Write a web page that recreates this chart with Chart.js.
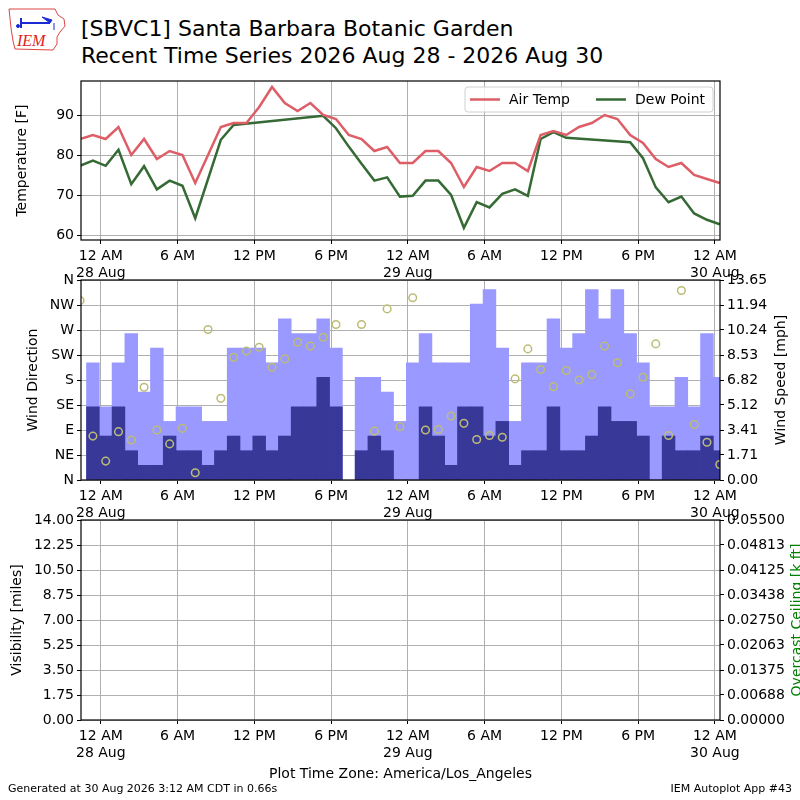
<!DOCTYPE html>
<html>
<head>
<meta charset="utf-8">
<title>SBVC1 Recent Time Series</title>
<script src="https://cdn.jsdelivr.net/npm/chart.js@4.4.1/dist/chart.umd.min.js"></script>
<style>
  html, body { margin: 0; padding: 0; background: #fff; overflow: hidden; width: 800px; height: 800px; }
  canvas { position: absolute; left: 0; top: 0; }
  .txt { position: absolute; font-family: 'DejaVu Sans', sans-serif; color: #000; white-space: nowrap; }
</style>
</head>
<body>
<svg style="position:absolute;left:6px;top:6px" width="62" height="48" viewBox="0 0 62 48">
  <path d="M3,3 L49,3 L52,9 L58,13 L59,20 L54,26 L51,31 L51,38 L47,44 L9,43 L7,35 L5,22 Z" fill="none" stroke="#d44" stroke-width="1"/>
  <g stroke="#1a2bd4" stroke-width="2" fill="#1a2bd4">
    <line x1="15" y1="17" x2="44" y2="17"/>
    <line x1="15" y1="12" x2="15" y2="22"/>
    <path d="M36,11 L46,14 L44,17 Z" stroke-width="1"/>
    <circle cx="12" cy="20" r="1.5" stroke-width="1"/>
    <line x1="48" y1="17" x2="48" y2="24" stroke-width="1"/>
  </g>
  <text x="11" y="40" font-family="Liberation Serif, serif" font-style="italic" font-size="16" fill="#d22">IEM</text>
</svg>
<div class="txt" style="left:81px; top:18px; font-size:22px; line-height:22px;">[SBVC1] Santa Barbara Botanic Garden</div>
<div class="txt" style="left:81px; top:45px; font-size:22px; line-height:22px;">Recent Time Series 2026 Aug 28 - 2026 Aug 30</div>
<canvas id="tempChart" width="820" height="800"></canvas>
<canvas id="windChart" width="820" height="800"></canvas>
<canvas id="visChart" width="820" height="800"></canvas>
<div class="txt" style="left:8px; top:783px; font-size:11px; line-height:11px;">Generated at 30 Aug 2026 3:12 AM CDT in 0.66s</div>
<div class="txt" style="right:8px; top:783px; font-size:11px; line-height:11px;">IEM Autoplot App #43</div>
<script>
// hours since 12 AM 28 Aug, America/Los_Angeles
var obsHours = [-1.62, -0.62, 0.38, 1.38, 2.38, 3.38, 4.38, 5.38, 6.38, 7.38,
  8.38, 9.38, 10.38, 11.38, 12.38, 13.38, 14.38, 15.38, 16.38, 17.38,
  18.38, 19.38, 20.38, 21.38, 22.38, 23.38, 24.38, 25.38, 26.38, 27.38,
  28.38, 29.38, 30.38, 31.38, 32.38, 33.38, 34.38, 35.38, 36.38, 37.38,
  38.38, 39.38, 40.38, 41.38, 42.38, 43.38, 44.38, 45.38, 46.38, 47.38, 48.38];

var airTemp = [84, 85, 84, 87, 80, 84, 79, 81, 80, 73,
  null, 87, 88, 88, 92, 97, 93, 91, 93, 90,
  89, 85, 84, 81, 82, 78, 78, 81, 81, 78,
  72, 77, 76, 78, 78, 76, 85, 86, 85, 87,
  88, 90, 89, 85, 83, 79, 77, 78, 75, 74, 73];

var dewPoint = [77.3, 78.6, 77.3, 81.3, 72.7, 77.2, 71.4, 73.6, 72.3, 64.2,
  null, 83.8, 87.5, null, null, null, null, null, null, 89.8,
  86.7, 82.1, 77.8, 73.6, 74.4, 69.6, 69.8, 73.6, 73.6, 70.0,
  61.8, 68.2, 66.9, 70.3, 71.4, 69.8, 84.0, 85.7, 84.3, null,
  null, null, null, 83.2, 79.2, 71.9, 68.2, 69.6, 65.4, 63.8, 62.7];

var windDir = [323, 79, 34, 87, 72, 167, 90, 65, 93, 13,
  271, 147, 221, 232, 239, 203, 218, 248, 241, 257,
  280, null, 280, 88, 308, 96, 328, 90, 91, 115,
  102, 73, 80, 77, 182, 236, 199, 168, 197, 180,
  190, 241, 211, 155, 185, 245, 80, 341, 100, 68, 28];

var windSpeed = [null, 5, 3, 5, 2, 1, 1, 3, 2, 2,
  1, 2, 3, 2, 3, 2, 3, 5, 5, 7,
  5, null, 2, 3, 2, 0, 0, 5, 3, 1,
  5, 5, 3, 4, 1, 2, 2, 5, 2, 2,
  3, 5, 4, 4, 3, 0, 3, 2, 2, 3, 2];

var windGust = [null, 8, 5, 8, 10, 6, 9, 4, 5, 5,
  4, 4, 9, 9, 9, 8, 11, 10, 10, 11,
  9, null, 7, 7, 6, 4, 8, 10, 8, 8,
  8, 12, 13, 9, 4, 8, 8, 11, 9, 10,
  13, 11, 13, 10, 8, 5, 5, 7, 5, 10, 7];

// no visibility / ceiling reports in this window
var visibility = [];
var ceiling = [];

var xTickHours = [0, 6, 12, 18, 24, 30, 36, 42, 48];
var xTickLabels = [['12 AM', '28 Aug'], '6 AM', '12 PM', '6 PM', ['12 AM', '29 Aug'],
  '6 AM', '12 PM', '6 PM', ['12 AM', '30 Aug']];
var tempTicks = [60, 70, 80, 90];
var dirTicks = [0, 45, 90, 135, 180, 225, 270, 315, 360];
var dirLabels = ['N', 'NE', 'E', 'SE', 'S', 'SW', 'W', 'NW', 'N'];
var speedTicks = [0, 1.71, 3.41, 5.12, 6.82, 8.53, 10.24, 11.94, 13.65];
var visTicks = [0, 1.75, 3.5, 5.25, 7, 8.75, 10.5, 12.25, 14];
var ceilTicks = [0, 0.00688, 0.01375, 0.02063, 0.0275, 0.03438, 0.04125, 0.04813, 0.055];

var xMin = -1.55, xMax = 48.4;
var gridColor = '#b0b0b0';

Chart.defaults.font.family = 'DejaVu Sans';
Chart.defaults.font.size = 14;
Chart.defaults.color = '#000';
Chart.defaults.animation = false;
Chart.defaults.plugins.legend.display = false;
Chart.defaults.plugins.tooltip.enabled = false;

function pairs(xs, ys) {
  return xs.map(function (x, i) { return { x: x, y: ys[i] }; });
}

function timeAxis(height, title) {
  return {
    type: 'linear', min: xMin, max: xMax, offset: false, z: 1,
    grid: { color: gridColor, lineWidth: 1, offset: false, tickColor: '#000', tickLength: 4 },
    border: { display: false },
    ticks: { autoSkip: false, maxRotation: 0, padding: 4, font: { lineHeight: 1.2 },
      callback: function (v, i) { return xTickLabels[i]; } },
    afterBuildTicks: function (a) { a.ticks = xTickHours.map(function (v) { return { value: v }; }); },
    afterFit: function (a) { a.height = height; },
    title: title ? { display: true, text: title, padding: { top: 0, bottom: 2 } } : { display: false }
  };
}

function sideAxis(pos, min, max, vals, labels, title, titlePad) {
  return {
    type: 'linear', position: pos, min: min, max: max, z: 1,
    grid: { color: gridColor, lineWidth: 1, tickColor: '#000', tickLength: 4, drawOnChartArea: pos === 'left' },
    border: { display: false },
    ticks: { autoSkip: false, padding: 3, callback: function (v, i) { return labels[i]; } },
    afterBuildTicks: function (a) { a.ticks = vals.map(function (v) { return { value: v }; }); },
    afterFit: function (a) { a.width = pos === 'left' ? 81 : 100; },
    title: title ? { display: true, text: title, padding: { top: titlePad, bottom: 0 } } : { display: false }
  };
}

// black frame round the plot area, plus an optional right-hand axis label
function framePlugin(rightTitle, rightColor, rightX) {
  return {
    id: 'frame',
    afterDraw: function (chart) {
      var a = chart.chartArea, ctx = chart.ctx;
      ctx.save();
      ctx.strokeStyle = '#000';
      ctx.lineWidth = 1.2;
      ctx.strokeRect(a.left, a.top, a.right - a.left, a.bottom - a.top);
      if (rightTitle) {
        ctx.translate(rightX, (a.top + a.bottom) / 2);
        ctx.rotate(-Math.PI / 2);
        ctx.fillStyle = rightColor;
        ctx.font = '14px "DejaVu Sans"';
        ctx.textAlign = 'center';
        ctx.textBaseline = 'middle';
        ctx.fillText(rightTitle, 0, 0);
      }
      ctx.restore();
    }
  };
}

var legendBox = {
  id: 'legendBox',
  afterDraw: function (chart) {
    var ctx = chart.ctx, a = chart.chartArea;
    var w = 248, h = 25, x = a.right - 7 - w, y = a.top + 6;
    ctx.save();
    ctx.fillStyle = 'rgba(255,255,255,0.8)';
    ctx.strokeStyle = '#d0d0d0';
    ctx.lineWidth = 1;
    ctx.beginPath();
    ctx.roundRect(x, y, w, h, 3);
    ctx.fill();
    ctx.stroke();
    ctx.font = '14px "DejaVu Sans"';
    ctx.textBaseline = 'middle';
    var cx = x + 5;
    chart.data.datasets.forEach(function (ds) {
      ctx.strokeStyle = ds.borderColor;
      ctx.lineWidth = 2.5;
      ctx.beginPath();
      ctx.moveTo(cx, y + h / 2);
      ctx.lineTo(cx + 30, y + h / 2);
      ctx.stroke();
      ctx.fillStyle = '#000';
      ctx.fillText(ds.label, cx + 39, y + h / 2 + 1);
      cx += 39 + ctx.measureText(ds.label).width + 26;
    });
    ctx.restore();
  }
};

var tempChart = new Chart(document.getElementById('tempChart'), {
  type: 'line',
  data: {
    datasets: [{
      label: 'Air Temp',
      data: pairs(obsHours, airTemp),
      borderColor: '#dd5e66',
      borderWidth: 2.5,
      pointRadius: 0,
      spanGaps: true
    }, {
      label: 'Dew Point',
      data: pairs(obsHours, dewPoint),
      borderColor: '#356a35',
      borderWidth: 2.5,
      pointRadius: 0,
      spanGaps: true
    }]
  },
  options: {
    responsive: false,
    layout: { padding: { top: 81, bottom: 520, left: 0, right: 100 } },
    scales: {
      x: timeAxis(40),
      y: sideAxis('left', 58.75, 98.5, tempTicks, tempTicks.map(String), 'Temperature [F]', 13.6)
    }
  },
  plugins: [framePlugin(), legendBox]
});

var windChart = new Chart(document.getElementById('windChart'), {
  type: 'bar',
  data: {
    datasets: [{
      type: 'line',
      label: 'Wind Direction',
      data: pairs(obsHours, windDir),
      yAxisID: 'y',
      showLine: false,
      pointRadius: 3.8,
      pointBorderWidth: 1.5,
      borderWidth: 1.5,
      borderColor: '#bcbc76',
      backgroundColor: 'rgba(0,0,0,0)',
      order: 0
    }, {
      label: 'Wind Speed',
      data: pairs(obsHours, windSpeed),
      yAxisID: 'y2',
      backgroundColor: '#383898',
      borderWidth: 0,
      grouped: false,
      barPercentage: 1,
      categoryPercentage: 1,
      order: 1
    }, {
      label: 'Wind Gust',
      data: pairs(obsHours, windGust),
      yAxisID: 'y2',
      backgroundColor: '#9999ff',
      borderWidth: 0,
      grouped: false,
      barPercentage: 1,
      categoryPercentage: 1,
      order: 2
    }]
  },
  options: {
    responsive: false,
    layout: { padding: { top: 280, bottom: 280, left: 0, right: 0 } },
    scales: {
      x: timeAxis(40),
      y: sideAxis('left', 0, 360, dirTicks, dirLabels, 'Wind Direction', 24.6),
      y2: sideAxis('right', 0, 13.65, speedTicks, speedTicks.map(function (v) { return v.toFixed(2); }))
    }
  },
  plugins: [framePlugin('Wind Speed [mph]', '#000', 781)]
});

var visChart = new Chart(document.getElementById('visChart'), {
  type: 'line',
  data: {
    datasets: [{
      label: 'Visibility',
      data: visibility,
      yAxisID: 'y',
      borderColor: '#000'
    }, {
      label: 'Overcast Ceiling',
      data: ceiling,
      yAxisID: 'y2',
      borderColor: 'green'
    }]
  },
  options: {
    responsive: false,
    layout: { padding: { top: 520, bottom: 15, left: 0, right: 0 } },
    scales: {
      x: timeAxis(65, 'Plot Time Zone: America/Los_Angeles'),
      y: sideAxis('left', 0, 14, visTicks, visTicks.map(function (v) { return v.toFixed(2); }), 'Visibility [miles]', 8.6),
      y2: sideAxis('right', 0, 0.055, ceilTicks, ceilTicks.map(function (v) { return v.toFixed(5); }))
    }
  },
  plugins: [framePlugin('Overcast Ceiling [k ft]', 'green', 797)]
});
</script>
</body>
</html>
